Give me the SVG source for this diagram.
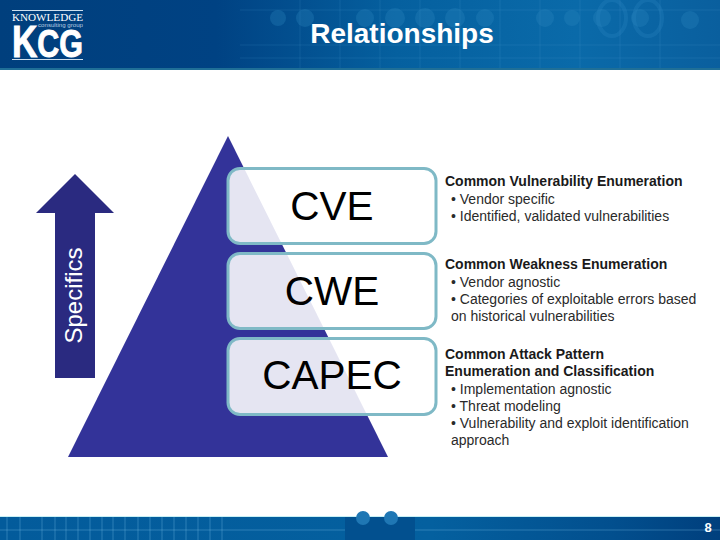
<svg xmlns="http://www.w3.org/2000/svg" width="720" height="540" viewBox="0 0 720 540">
<style>
text{font-family:"Liberation Sans",Arial,sans-serif}
.box{fill:#fff;fill-opacity:.875;stroke:#7fb9c6;stroke-width:3}
.big{font-size:40.5px;fill:#000;text-anchor:middle}
.d{font-size:14px;fill:#2a2a2a}
.h{font-size:14px;font-weight:bold;fill:#1a1a1a}
.grid{stroke:#5ea8d8;stroke-opacity:.16;stroke-width:1}
.dot{fill:#2a86bf;fill-opacity:.32}
</style>
<defs>
<linearGradient id="hdr" x1="0" y1="0" x2="1" y2="0">
<stop offset="0" stop-color="#003f7d"/><stop offset=".3" stop-color="#004283"/><stop offset=".55" stop-color="#05609f"/><stop offset=".8" stop-color="#0a6aa9"/><stop offset="1" stop-color="#0a5f9e"/>
</linearGradient>
<linearGradient id="ftr" x1="0" y1="0" x2="1" y2="0">
<stop offset="0" stop-color="#035b9b"/><stop offset=".6" stop-color="#04609f"/><stop offset=".85" stop-color="#024f8e"/><stop offset="1" stop-color="#003f7d"/>
</linearGradient>
</defs>
<rect width="720" height="540" fill="#fff"/>
<g id="header">
<rect width="720" height="68" fill="url(#hdr)"/>
<rect y="68" width="720" height="2" fill="#1f6f97"/>
<g class="grid"><path d="M240 10H720M240 45H720M240 58H720M300 0V68M340 0V68M380 0V68M420 0V68M460 0V68M500 0V68M540 0V68M580 0V68M620 0V68M660 0V68"/></g>
<g class="dot"><circle cx="278" cy="18" r="8"/><circle cx="305" cy="18" r="9"/><circle cx="365" cy="18" r="9"/><circle cx="395" cy="18" r="10"/><circle cx="425" cy="18" r="10"/><circle cx="455" cy="18" r="10"/><circle cx="485" cy="18" r="9"/><circle cx="545" cy="18" r="9"/><circle cx="572" cy="18" r="8"/><circle cx="602" cy="18" r="9"/><circle cx="640" cy="18" r="9"/><circle cx="690" cy="20" r="9"/></g>
<g fill="none" stroke="#2a86bf" stroke-opacity=".3" stroke-width="4"><ellipse cx="612" cy="18" rx="14" ry="18"/><ellipse cx="648" cy="18" rx="14" ry="18"/></g>
<text x="402" y="43" font-size="28" font-weight="bold" fill="#fff" text-anchor="middle">Relationships</text>
</g>
<g id="logo">
<rect x="12" y="10" width="71" height="1" fill="#cfe0ee"/>
<text x="12" y="20.500" font-size="10.500" fill="#fff" style="font-family:'Liberation Serif',serif" textLength="71" lengthAdjust="spacingAndGlyphs">KNOWLEDGE</text>
<text x="38" y="27" font-size="5.500" fill="#b7cde2" textLength="45" lengthAdjust="spacingAndGlyphs">consulting group</text>
<text x="12" y="57" font-weight="bold" fill="#fff" stroke="#fff" stroke-width="1" textLength="71" lengthAdjust="spacingAndGlyphs"><tspan font-size="45">K</tspan><tspan font-size="39">CG</tspan></text>
<rect x="12" y="59" width="71" height="1" fill="#cfe0ee"/>
</g>
<g id="pyramid"><polygon points="228,136 388,457 68,457" fill="#333399"/></g>
<g id="arrow">
<polygon points="75,174 114,213 95,213 95,378 55,378 55,213 36,213" fill="#2a2a80"/>
<text transform="translate(81.500,295.500) rotate(-90)" font-size="24" fill="#fff" text-anchor="middle">Specifics</text>
</g>
<g id="cve"><rect class="box" x="228" y="168.500" width="208" height="75" rx="12"/><text class="big" x="332" y="220">CVE</text></g>
<g id="cwe"><rect class="box" x="228" y="253.500" width="208" height="75" rx="12"/><text class="big" x="332" y="305">CWE</text></g>
<g id="capec"><rect class="box" x="228" y="338.500" width="208" height="76" rx="12"/><text class="big" x="332" y="389">CAPEC</text></g>
<g id="desc-cve">
<text class="h" x="445" y="186">Common Vulnerability Enumeration</text>
<text class="d" x="451" y="204">• Vendor specific</text>
<text class="d" x="451" y="221">• Identified, validated vulnerabilities</text>
</g>
<g id="desc-cwe">
<text class="h" x="445" y="269">Common Weakness Enumeration</text>
<text class="d" x="451" y="287">• Vendor agnostic</text>
<text class="d" x="451" y="304">• Categories of exploitable errors based</text>
<text class="d" x="451" y="321">on historical vulnerabilities</text>
</g>
<g id="desc-capec">
<text class="h" x="445" y="359">Common Attack Pattern</text>
<text class="h" x="445" y="376">Enumeration and Classification</text>
<text class="d" x="451" y="394">• Implementation agnostic</text>
<text class="d" x="451" y="411">• Threat modeling</text>
<text class="d" x="451" y="428">• Vulnerability and exploit identification</text>
<text class="d" x="451" y="445">approach</text>
</g>
<g id="footer">
<rect y="517" width="720" height="23" fill="url(#ftr)"/>
<rect y="516" width="720" height="1" fill="#c8f0f5"/>
<g stroke="#7cc0e4" stroke-opacity=".35" stroke-width="1"><path d="M0 530H720M7 517V540M20 517V540M42 517V540M55 517V540M66 517V540M78 517V540M90 517V540M102 517V540M113 517V540M125 517V540M138 517V540M150 517V540M162 517V540M174 517V540M186 517V540M198 517V540M210 517V540M222 517V540"/></g>
<rect x="345" y="517" width="70" height="23" fill="#02508f"/>
<circle cx="363" cy="518" r="7" fill="#1f77b4"/><circle cx="391" cy="518" r="7" fill="#1f77b4"/>
<text x="708" y="532" font-size="13" font-weight="bold" fill="#fff" text-anchor="middle">8</text>
</g>
</svg>
